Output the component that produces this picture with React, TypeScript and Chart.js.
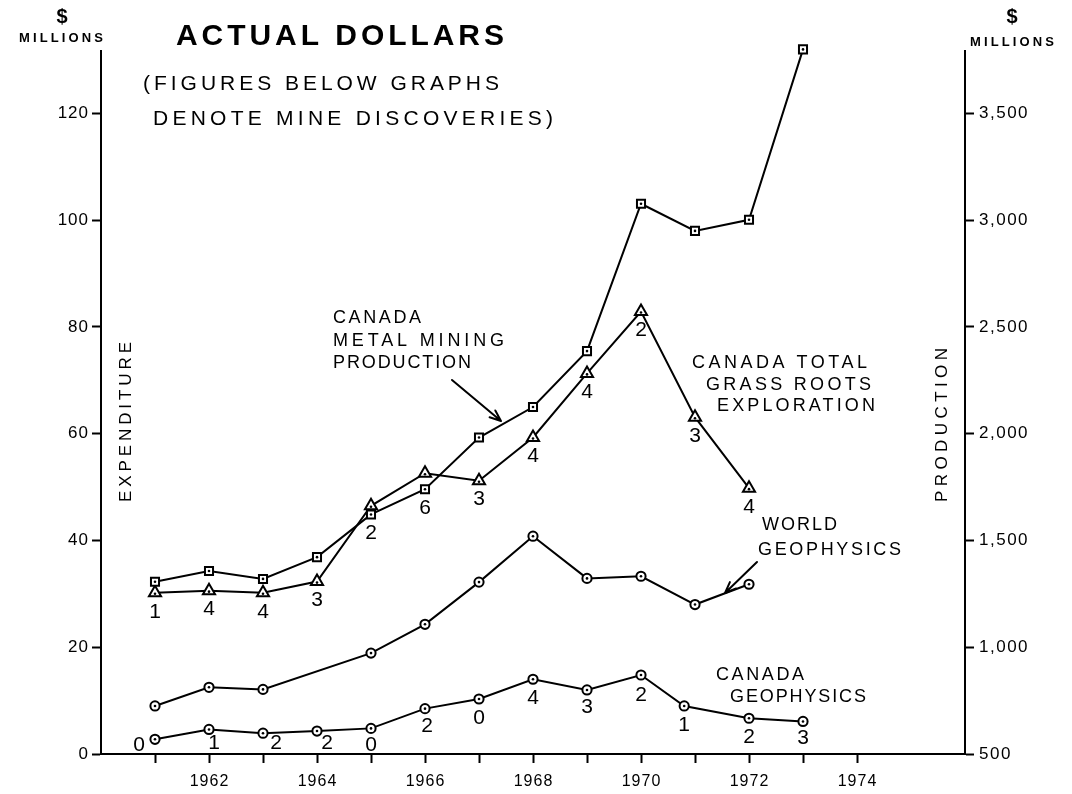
import React, { useEffect, useRef } from 'react';
import { Chart, registerables } from 'chart.js';

Chart.register(...registerables);

// ---------------- DATA ----------------
// Canada metal mining production ($ millions, right axis)
const metalProductionYears = [1961, 1962, 1963, 1964, 1965, 1966, 1967, 1968, 1969, 1970, 1971, 1972, 1973];
const metalProduction = [1307, 1357, 1320, 1422, 1622, 1740, 1982, 2125, 2387, 3077, 2950, 3002, 3800];

// Canada total grass roots exploration ($ millions, left axis)
const grassRootsYears = [1961, 1962, 1963, 1964, 1965, 1966, 1967, 1968, 1969, 1970, 1971, 1972];
const grassRootsExploration = [30.2, 30.6, 30.2, 32.3, 46.5, 52.6, 51.2, 59.3, 71.3, 82.9, 63.1, 49.8];
const grassRootsDiscoveries = ['1', '4', '4', '3', '2', '6', '3', '4', '4', '2', '3', '4'];

// World geophysics ($ millions, left axis)
const worldGeoYears = [1961, 1962, 1963, 1965, 1966, 1967, 1968, 1969, 1970, 1971, 1972];
const worldGeophysics = [9.0, 12.5, 12.1, 18.9, 24.3, 32.2, 40.8, 32.9, 33.3, 28.0, 31.8];

// Canada geophysics ($ millions, left axis)
const canadaGeoYears = [1961, 1962, 1963, 1964, 1965, 1966, 1967, 1968, 1969, 1970, 1970.8, 1972, 1973];
const canadaGeophysics = [2.75, 4.6, 3.9, 4.3, 4.8, 8.5, 10.3, 14.0, 12.0, 14.8, 9.0, 6.7, 6.1];
const canadaGeoDiscoveries = ['0', '1', '2', '2', '0', '2', '0', '4', '3', '2', '1', '2', '3'];

// Axes
const xTickYears = [1961, 1962, 1963, 1964, 1965, 1966, 1967, 1968, 1969, 1970, 1971, 1972, 1973, 1974];
const xLabelYears = [1962, 1964, 1966, 1968, 1970, 1972, 1974];
const expenditureTicks = [0, 20, 40, 60, 80, 100, 120];
const productionTicks = [500, 1000, 1500, 2000, 2500, 3000, 3500];

// ---------------- STYLE / LAYOUT ----------------
const FONT = '"Liberation Sans", "DejaVu Sans", Arial, sans-serif';
const X_MIN = 1960;
const X_MAX = 1976;
const Y_MAX = 131.7;
const Y1_MIN = 500;
const Y1_MAX = 500 + 25 * Y_MAX;

// label offsets (px) for Canada geophysics discovery figures
const GEO_LABEL_OFFSETS: [number, number][] = [
  [-16, 6], [5, 14], [13, 10], [10, 12], [0, 17], [2, 18], [0, 19],
  [0, 19], [0, 17], [0, 20], [0, 19], [0, 19], [0, 17],
];

function drawText(
  ctx: CanvasRenderingContext2D,
  text: string,
  x: number,
  y: number,
  size: number,
  opts: { weight?: string; spacing?: number; align?: 'left' | 'right' | 'center'; width?: number } = {}
) {
  ctx.save();
  ctx.font = `${opts.weight || 'normal'} ${size}px ${FONT}`;
  (ctx as any).letterSpacing = '0px';
  let sp = opts.spacing || 0;
  if (opts.width !== undefined) {
    const nat = ctx.measureText(text).width;
    sp = text.length > 1 ? (opts.width - nat) / (text.length - 1) : 0;
  }
  (ctx as any).letterSpacing = `${sp}px`;
  ctx.textBaseline = 'middle';
  ctx.fillStyle = '#000';
  const align = opts.align || 'left';
  ctx.textAlign = align;
  let dx = 0;
  if (align === 'right') dx = sp;
  if (align === 'center') dx = sp / 2;
  ctx.fillText(text, x + dx, y);
  ctx.restore();
}

function drawArrow(ctx: CanvasRenderingContext2D, x1: number, y1: number, x2: number, y2: number) {
  ctx.save();
  ctx.strokeStyle = '#000';
  ctx.lineWidth = 2;
  ctx.lineCap = 'round';
  ctx.beginPath();
  ctx.moveTo(x1, y1);
  ctx.lineTo(x2, y2);
  const a = Math.atan2(y2 - y1, x2 - x1);
  const L = 12;
  ctx.moveTo(x2, y2);
  ctx.lineTo(x2 - L * Math.cos(a - 0.38), y2 - L * Math.sin(a - 0.38));
  ctx.moveTo(x2, y2);
  ctx.lineTo(x2 - L * Math.cos(a + 0.38), y2 - L * Math.sin(a + 0.38));
  ctx.stroke();
  ctx.restore();
}

const annotatePlugin = {
  id: 'annotate',
  afterDatasetsDraw(chart: any) {
    const ctx: CanvasRenderingContext2D = chart.ctx;
    ctx.save();
    ctx.fillStyle = '#000';
    chart.data.datasets.forEach((ds: any, di: number) => {
      const meta = chart.getDatasetMeta(di);
      meta.data.forEach((pt: any) => {
        ctx.beginPath();
        ctx.arc(pt.x, pt.y + (ds.pointStyle === 'triangle' ? 1 : 0), 1.3, 0, Math.PI * 2);
        ctx.fill();
      });
    });
    ctx.restore();
  },
  afterDraw(chart: any) {
    const ctx: CanvasRenderingContext2D = chart.ctx;
    const xs = chart.scales.x;
    const ys = chart.scales.y;
    const y1s = chart.scales.y1;

    // tick labels
    expenditureTicks.forEach((v) => {
      drawText(ctx, String(v), 88, ys.getPixelForValue(v), 17, { spacing: 1, align: 'right' });
    });
    productionTicks.forEach((v) => {
      drawText(ctx, v.toLocaleString('en-US'), 979, y1s.getPixelForValue(v), 17, { spacing: 1.5 });
    });
    xLabelYears.forEach((yr) => {
      drawText(ctx, String(yr), xs.getPixelForValue(yr), 782, 16, { spacing: 1, align: 'center' });
    });

    // discovery figures: grass roots
    grassRootsYears.forEach((yr, i) => {
      let py = ys.getPixelForValue(grassRootsExploration[i]);
      const mi = metalProductionYears.indexOf(yr);
      if (mi >= 0) py = Math.max(py, y1s.getPixelForValue(metalProduction[mi]));
      drawText(ctx, grassRootsDiscoveries[i], xs.getPixelForValue(yr), py + 19, 21, { align: 'center' });
    });
    // discovery figures: Canada geophysics
    canadaGeoYears.forEach((yr, i) => {
      const [dx, dy] = GEO_LABEL_OFFSETS[i];
      drawText(ctx, canadaGeoDiscoveries[i], xs.getPixelForValue(yr) + dx, ys.getPixelForValue(canadaGeophysics[i]) + dy, 21, { align: 'center' });
    });

    // axis headers
    drawText(ctx, '$', 62, 17, 20, { weight: 'bold', align: 'center' });
    drawText(ctx, 'MILLIONS', 19, 38, 13, { weight: 'bold', width: 84 });
    drawText(ctx, '$', 1012, 17, 20, { weight: 'bold', align: 'center' });
    drawText(ctx, 'MILLIONS', 970, 42, 13, { weight: 'bold', width: 84 });

    // title
    drawText(ctx, 'ACTUAL DOLLARS', 176, 37, 30, { weight: 'bold', width: 328 });
    drawText(ctx, '(FIGURES BELOW GRAPHS', 143, 84, 21, { width: 356 });
    drawText(ctx, 'DENOTE MINE DISCOVERIES)', 153, 119, 21, { width: 400 });

    // rotated axis titles
    ctx.save();
    ctx.translate(126, 421);
    ctx.rotate(-Math.PI / 2);
    drawText(ctx, 'EXPENDITURE', -81, 0, 17, { width: 160 });
    ctx.restore();
    ctx.save();
    ctx.translate(942, 424);
    ctx.rotate(-Math.PI / 2);
    drawText(ctx, 'PRODUCTION', -78, 0, 17, { width: 154 });
    ctx.restore();

    // series annotations
    drawText(ctx, 'CANADA', 333, 318, 18, { width: 88 });
    drawText(ctx, 'METAL MINING', 333, 341, 18, { width: 171 });
    drawText(ctx, 'PRODUCTION', 333, 363, 18, { width: 138 });
    drawArrow(ctx, 452, 380, 501, 421);

    drawText(ctx, 'CANADA TOTAL', 692, 363, 18, { width: 175 });
    drawText(ctx, 'GRASS ROOTS', 706, 385, 18, { width: 165 });
    drawText(ctx, 'EXPLORATION', 717, 406, 18, { width: 158 });

    drawText(ctx, 'WORLD', 762, 525, 18, { width: 75 });
    drawText(ctx, 'GEOPHYSICS', 758, 550, 18, { width: 143 });
    drawArrow(ctx, 757, 562, 725, 593);

    drawText(ctx, 'CANADA', 716, 675, 18, { width: 88 });
    drawText(ctx, 'GEOPHYSICS', 730, 697, 18, { width: 136 });
  },
};

function pts(xs: number[], ys: number[]) {
  return xs.map((x, i) => ({ x, y: ys[i] }));
}

const lineStyle = {
  borderColor: '#000',
  borderWidth: 2,
  pointBackgroundColor: '#fff',
  pointBorderColor: '#000',
  pointBorderWidth: 2,
  tension: 0,
  clip: false as any,
  fill: false,
};

export default function App() {
  const canvasRef = useRef<HTMLCanvasElement | null>(null);

  useEffect(() => {
    if (!canvasRef.current) return;
    const chart = new Chart(canvasRef.current, {
      type: 'line',
      data: {
        datasets: [
          {
            label: 'Canada geophysics',
            data: pts(canadaGeoYears, canadaGeophysics),
            yAxisID: 'y',
            pointStyle: 'circle',
            pointRadius: 4.6,
            ...lineStyle,
          },
          {
            label: 'World geophysics',
            data: pts(worldGeoYears, worldGeophysics),
            yAxisID: 'y',
            pointStyle: 'circle',
            pointRadius: 4.6,
            ...lineStyle,
          },
          {
            label: 'Canada metal mining production',
            data: pts(metalProductionYears, metalProduction),
            yAxisID: 'y1',
            pointStyle: 'rect',
            pointRadius: 5.7,
            ...lineStyle,
          },
          {
            label: 'Canada total grass roots exploration',
            data: pts(grassRootsYears, grassRootsExploration),
            yAxisID: 'y',
            pointStyle: 'triangle',
            pointRadius: 7,
            ...lineStyle,
          },
        ] as any,
      },
      options: {
        animation: false,
        responsive: false,
        devicePixelRatio: 1,
        layout: { padding: { top: 51, left: 0, right: 0, bottom: 0 } },
        plugins: { legend: { display: false }, tooltip: { enabled: false }, title: { display: false } },
        scales: {
          x: {
            type: 'linear',
            min: X_MIN,
            max: X_MAX,
            afterBuildTicks: (s: any) => {
              s.ticks = xTickYears.map((v) => ({ value: v }));
            },
            afterFit: (s: any) => {
              s.height = 40;
            },
            ticks: { color: 'rgba(0,0,0,0)', font: { size: 10 }, autoSkip: false, maxRotation: 0 },
            grid: { drawOnChartArea: false, drawTicks: true, tickLength: 9, tickWidth: 2, tickColor: '#000' },
            border: { display: true, color: '#000', width: 2 },
          },
          y: {
            type: 'linear',
            position: 'left',
            min: 0,
            max: Y_MAX,
            afterBuildTicks: (s: any) => {
              s.ticks = expenditureTicks.map((v) => ({ value: v }));
            },
            afterFit: (s: any) => {
              s.width = 101;
            },
            ticks: { color: 'rgba(0,0,0,0)', font: { size: 10 } },
            grid: { drawOnChartArea: false, drawTicks: true, tickLength: 9, tickWidth: 2, tickColor: '#000' },
            border: { display: true, color: '#000', width: 2 },
          },
          y1: {
            type: 'linear',
            position: 'right',
            min: Y1_MIN,
            max: Y1_MAX,
            afterBuildTicks: (s: any) => {
              s.ticks = productionTicks.map((v) => ({ value: v }));
            },
            afterFit: (s: any) => {
              s.width = 107;
            },
            ticks: { color: 'rgba(0,0,0,0)', font: { size: 10 } },
            grid: { drawOnChartArea: false, drawTicks: true, tickLength: 9, tickWidth: 2, tickColor: '#000' },
            border: { display: true, color: '#000', width: 2 },
          },
        },
      } as any,
      plugins: [annotatePlugin],
    });
    return () => chart.destroy();
  }, []);

  return (
    <div style={{ position: 'absolute', left: 0, top: 0, width: 1072, height: 794, background: '#fff' }}>
      <canvas ref={canvasRef} width={1072} height={794} style={{ display: 'block' }} />
    </div>
  );
}
